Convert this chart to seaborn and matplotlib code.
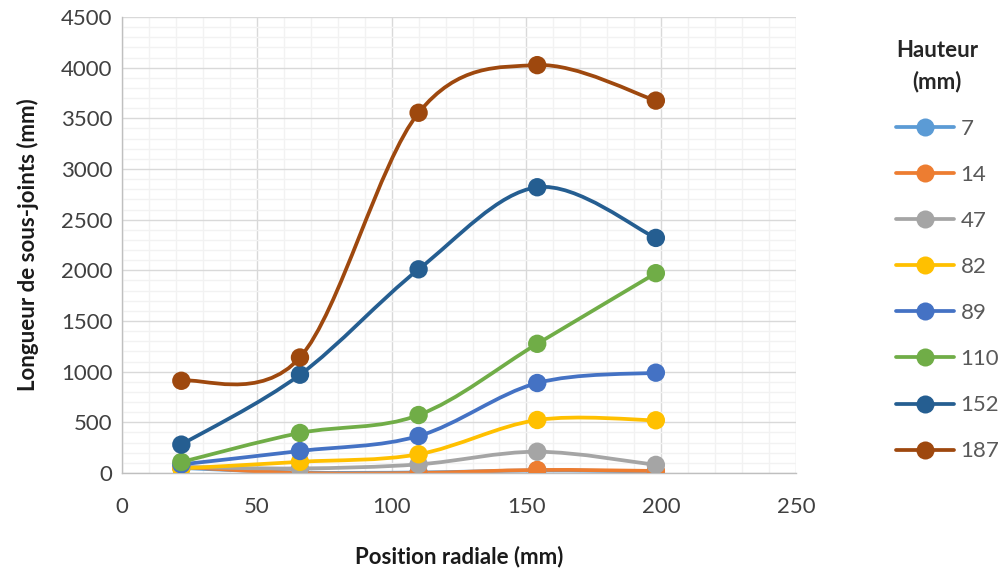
import numpy as np
import pandas as pd
import seaborn as sns
import matplotlib.pyplot as plt
from matplotlib.path import Path
from matplotlib.patches import PathPatch
from matplotlib.lines import Line2D
from matplotlib.ticker import MultipleLocator

positions = [22, 66, 110, 154, 198]
hauteurs = ["7", "14", "47", "82", "89", "110", "152", "187"]
h7 = [50, 5, 5, 25, 15]
h14 = [60, 0, 0, 30, 20]
h47 = [60, 45, 85, 210, 80]
h82 = [45, 110, 185, 523, 520]
h89 = [85, 217, 365, 888, 990]
h110 = [108, 395, 572, 1275, 1972]
h152 = [280, 970, 2010, 2820, 2320]
h187 = [910, 1140, 3555, 4025, 3675]
colors = ["#5B9BD5", "#ED7D31", "#A5A5A5", "#FFC000", "#4472C4", "#70AD47", "#255E91", "#9E480E"]

series = [h7, h14, h47, h82, h89, h110, h152, h187]
df = pd.DataFrame({
    "x": positions * len(hauteurs),
    "y": sum(series, []),
    "h": [h for h in hauteurs for _ in positions],
})

sns.set_theme(style="white")
plt.rcParams["font.family"] = ["Lato", "DejaVu Sans"]

fig = plt.figure(figsize=(10.06, 5.75), dpi=100)
ax = fig.add_axes([0.1213, 0.1774, 0.67, 0.793])


def smooth_path(xs, ys):
    # Excel-style smoothed line: cubic Bezier segments (Catmull-Rom tangents)
    p = np.column_stack([xs, ys]).astype(float)
    ext = np.vstack([p[0], p, p[-1]])
    verts = [tuple(p[0])]
    codes = [Path.MOVETO]
    for i in range(len(p) - 1):
        a, b, c, d = ext[i], ext[i + 1], ext[i + 2], ext[i + 3]
        verts += [tuple(b + (c - a) / 6), tuple(c - (d - b) / 6), tuple(c)]
        codes += [Path.CURVE4] * 3
    return Path(verts, codes)


for vals, col in zip(series, colors):
    ax.add_patch(PathPatch(smooth_path(positions, vals), fill=False,
                           edgecolor=col, lw=2.7, zorder=2, capstyle="round"))

sns.scatterplot(data=df, x="x", y="y", hue="h", hue_order=hauteurs,
                palette=colors, s=175, edgecolor="none", legend=False,
                ax=ax, zorder=3)

ax.set_xlim(0, 250)
ax.set_ylim(0, 4500)
ax.xaxis.set_major_locator(MultipleLocator(50))
ax.xaxis.set_minor_locator(MultipleLocator(10))
ax.yaxis.set_major_locator(MultipleLocator(500))
ax.yaxis.set_minor_locator(MultipleLocator(100))
ax.grid(True, which="major", color="#D9D9D9", lw=1)
ax.grid(True, which="minor", color="#F2F2F2", lw=1)
ax.set_axisbelow(True)
for s in ["top", "right"]:
    ax.spines[s].set_visible(False)
for s in ["left", "bottom"]:
    ax.spines[s].set_color("#BFBFBF")
    ax.spines[s].set_linewidth(1)
ax.tick_params(axis="both", labelsize=16, colors="#404040", length=0)
ax.tick_params(axis="x", pad=17)
ax.tick_params(axis="y", pad=7)

ax.set_xlabel("Position radiale (mm)", fontsize=16, fontweight="bold",
              color="#1a1a1a", labelpad=21)
ax.set_ylabel("Longueur de sous-joints (mm)", fontsize=16, fontweight="bold",
              color="#1a1a1a", labelpad=16)

handles = [Line2D([0], [0], color=c, lw=2.7, marker="o", markersize=13,
                  markeredgewidth=0) for c in colors]
leg = fig.legend(handles, hauteurs, title="Hauteur\n(mm)", loc="upper left",
                 bbox_to_anchor=(0.871, 0.965), frameon=False, fontsize=16,
                 labelspacing=1.175, handlelength=2.6, handletextpad=0.3,
                 labelcolor="#595959", alignment="left")
leg.get_title().set_fontweight("bold")
leg.get_title().set_fontsize(16)
leg.get_title().set_multialignment("center")
leg.get_title().set_linespacing(1.55)

fig.savefig("out.png", dpi=100)
